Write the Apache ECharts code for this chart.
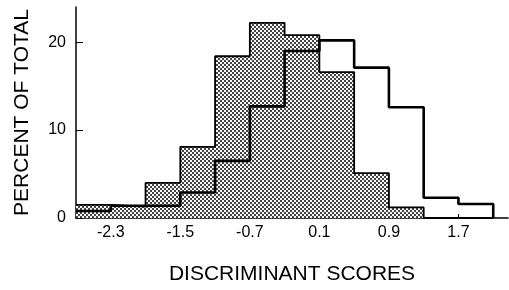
<!DOCTYPE html>
<html>
<head>
<meta charset="utf-8">
<script src="https://cdn.jsdelivr.net/npm/echarts@6/dist/echarts.min.js"></script>
<style>
  html, body { margin: 0; padding: 0; background: #fff; }
  #chart { width: 509px; height: 290px; }
</style>
</head>
<body>
<div id="chart"></div>
<script>
// bin edges of the histogram (discriminant score)
const binEdges = [-2.7, -2.3, -1.9, -1.5, -1.1, -0.7, -0.3, 0.1, 0.5, 0.9, 1.3, 1.7, 2.1];
// percent of total per bin
const shadedGroup  = [1.5, 1.3, 4.0, 8.1, 18.4, 22.2, 20.8, 16.6, 5.1, 1.2, 0, 0];
const outlineGroup = [0.8, 1.4, 1.4, 2.9, 6.5, 12.7, 19.0, 20.2, 17.1, 12.6, 2.3, 1.6];
// axis ticks / labels
const xTicks  = [-2.3, -1.9, -1.5, -1.1, -0.7, -0.3, 0.1, 0.5, 0.9, 1.3, 1.7, 2.1];
const xLabels = [-2.3, -1.5, -0.7, 0.1, 0.9, 1.7];
const yLabels = [0, 10, 20];

const FONT = '"Liberation Sans Narrow", "Liberation Sans", Arial, sans-serif';

// dotted screen like the printed figure
const tile = document.createElement('canvas');
tile.width = 4; tile.height = 4;
const tctx = tile.getContext('2d');
tctx.fillStyle = '#f7f7f7';
tctx.fillRect(0, 0, 4, 4);
tctx.fillStyle = '#444';
tctx.fillRect(0, 0, 2, 2);
tctx.fillRect(2, 2, 2, 2);

const stepData = (vals) => {
    const pts = vals.map((v, i) => [binEdges[i], v]);
    pts.push([binEdges[binEdges.length - 1], 0]);
    return pts;
};

const chart = echarts.init(document.getElementById('chart'), null, { renderer: 'canvas' });

const option = {
    animation: false,
    backgroundColor: '#fff',
    grid: { left: 76, right: 1, top: 7, bottom: 72 },
    xAxis: {
        type: 'value',
        min: -2.7,
        max: 2.27,
        name: 'DISCRIMINANT SCORES',
        nameLocation: 'middle',
        nameGap: 46,
        nameTextStyle: { fontFamily: FONT, fontSize: 21, color: '#000' },
        axisLine: { show: true, onZero: false, lineStyle: { color: '#000', width: 1.5 } },
        axisTick: { show: true, inside: true, length: 4, customValues: xTicks, lineStyle: { color: '#000', width: 1 } },
        axisLabel: {
            customValues: xLabels,
            formatter: (v) => v.toFixed(1),
            fontFamily: FONT, fontSize: 16, color: '#000', margin: 7
        },
        splitLine: { show: false }
    },
    yAxis: {
        type: 'value',
        min: 0,
        max: 24,
        name: 'PERCENT OF TOTAL',
        nameLocation: 'middle',
        nameGap: 43,
        nameTextStyle: { fontFamily: FONT, fontSize: 21, color: '#000' },
        axisLine: { show: true, onZero: false, lineStyle: { color: '#000', width: 1.5 } },
        axisTick: { show: true, inside: true, length: 7, customValues: yLabels, lineStyle: { color: '#000', width: 1 } },
        axisLabel: {
            customValues: yLabels,
            fontFamily: FONT, fontSize: 16, color: '#000', margin: 10
        },
        splitLine: { show: false }
    },
    series: [
        {
            type: 'line',
            step: 'end',
            data: stepData(shadedGroup),
            showSymbol: false,
            lineStyle: { color: '#000', width: 1.8 },
            areaStyle: { color: { image: tile, repeat: 'repeat' }, opacity: 1 },
            z: 2
        },
        {
            type: 'line',
            step: 'end',
            data: stepData(outlineGroup),
            showSymbol: false,
            lineStyle: { color: '#000', width: 2.6 },
            z: 3
        }
    ]
};

chart.setOption(option);
</script>
</body>
</html>
